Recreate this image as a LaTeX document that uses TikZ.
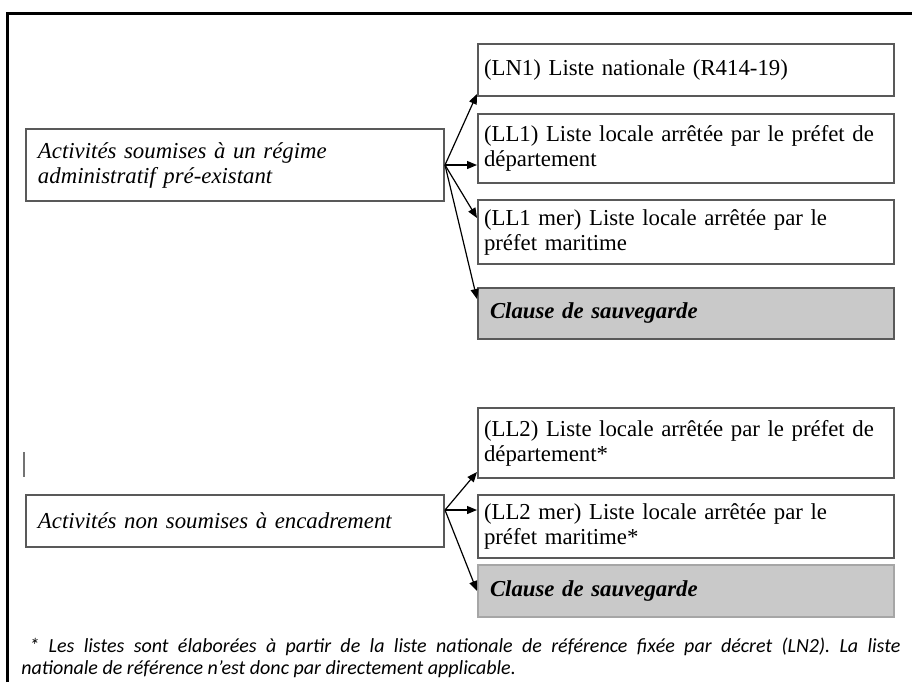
\documentclass[tikz,border=0pt]{standalone}
\usepackage{fontspec}
\setmainfont{Liberation Serif}
\newfontfamily\notefont{Carlito}
\usetikzlibrary{arrows.meta}

\newcommand{\listfont}{\fontsize{11.4}{12.5}\selectfont}
\tikzstyle{listbox}=[draw=black!65,line width=1pt,fill=white,anchor=north west,minimum width=208pt,text width=202pt,inner xsep=3pt,inner ysep=0pt,align=left,font=\listfont]
\tikzstyle{clause}=[listbox,fill=black!21,font=\listfont\bfseries\itshape]
\tikzstyle{activity}=[listbox,minimum width=209pt,text width=197pt,inner xsep=6pt,font=\listfont\itshape]
\tikzstyle{link}=[draw,line width=0.6pt,-{Triangle[length=5pt,width=4pt]}]
\tikzstyle{outerline}=[draw,line width=1.5pt]
\tikzstyle{note}=[anchor=north west,inner sep=0pt,text width=439.5pt,align=justify,font=\notefont\itshape\fontsize{10}{11}\selectfont\frenchspacing]

\begin{document}
\begin{tikzpicture}[x=0.5pt,y=-0.5pt]
    \useasboundingbox (0,0) rectangle (912,682);
    % frame, only top and left edges are visible
    \draw[outerline] (7,682) |- (912,13);
    \draw[black!55,line width=1pt] (24,452) -- (24,477);
    % First group
    \node[activity,minimum height=36pt] (left1) at (25,128) {Activités soumises à un régime\\administratif pré-existant};
    \node[listbox,minimum height=26pt] (ln1) at (477,43) {(LN1) Liste nationale (R414-19)};
    \node[listbox,minimum height=34.5pt] (ll1) at (477,113) {(LL1) Liste locale arrêtée par le préfet de\\département};
    \node[listbox,minimum height=32pt] (ll1mer) at (477,199) {(LL1 mer) Liste locale arrêtée par le\\préfet maritime};
    \node[clause,minimum height=25.5pt] (clause1) at (477,287) {\hspace*{3pt}Clause de sauvegarde};
    % Second group
    \node[activity,minimum height=26pt] (left2) at (25,494) {Activités non soumises à encadrement};
    \node[listbox,minimum height=35pt] (ll2) at (477,407) {(LL2) Liste locale arrêtée par le préfet de\\département*};
    \node[listbox,minimum height=31.5pt] (ll2mer) at (477,494) {(LL2 mer) Liste locale arrêtée par le\\préfet maritime*};
    \node[clause,draw=black!35,minimum height=26pt] (clause2) at (477,564) {\hspace*{3pt}Clause de sauvegarde};
    % Connect activities with their lists
    \foreach \from/\fshift/\to/\anchor/\tshift in {left1/0pt/ln1/south west/1.5pt, left1/0pt/ll1/west/-8.25pt, left1/0pt/ll1mer/north west/-9.5pt, left1/0pt/clause1/north west/-6pt, left2/5.5pt/ll2/south west/3.5pt, left2/5.5pt/ll2mer/west/8.25pt, left2/5.5pt/clause2/west/0pt}
        \path[link] ([yshift=\fshift]\from.east) -- ([yshift=\tshift]\to.\anchor);
    % Footnote
    \node[note] (footnote) at (21,637) {\hspace*{4pt}* Les listes sont élaborées à partir de la liste nationale de référence fixée par décret (LN2). La liste\linebreak nationale de référence n’est donc par directement applicable.};
\end{tikzpicture}
\end{document}
